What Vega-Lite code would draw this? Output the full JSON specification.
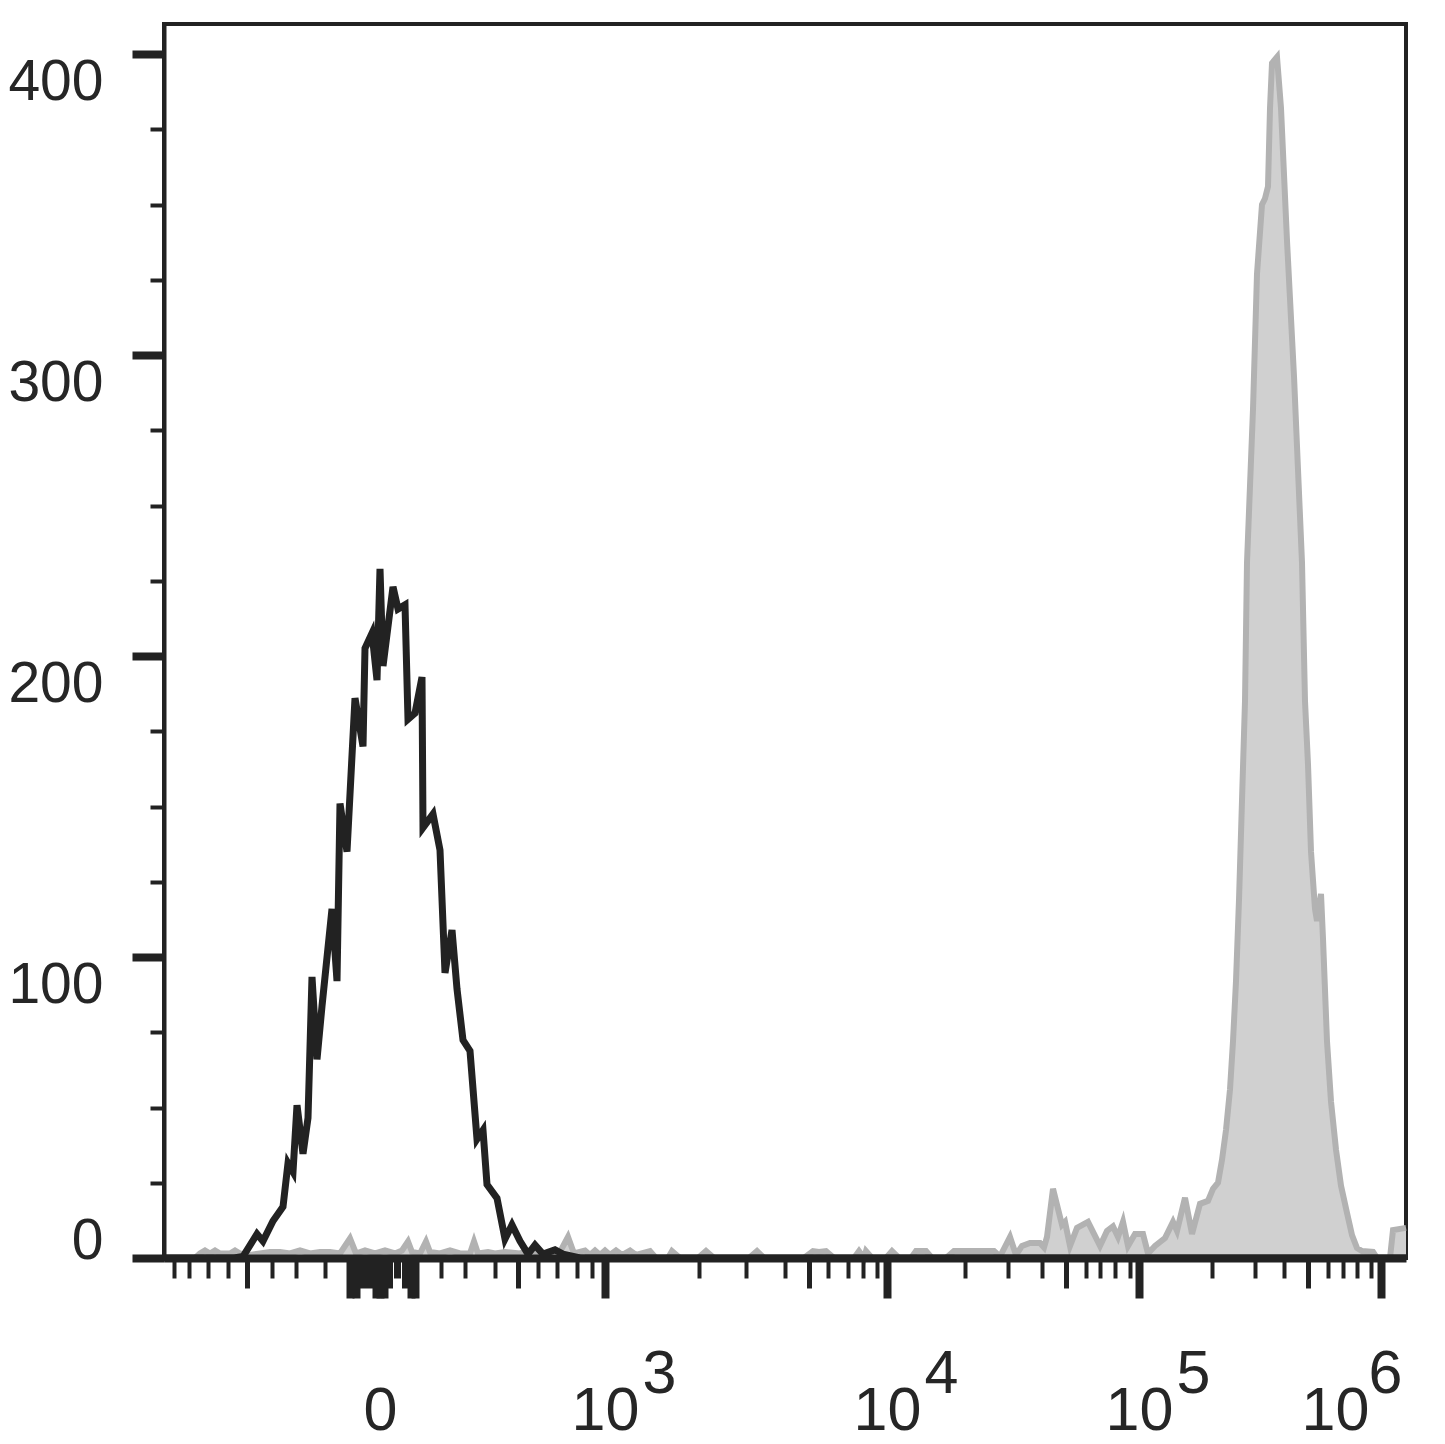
{
  "$schema": "https://vega.github.io/schema/vega-lite/v6.json",
  "width": 1242,
  "height": 1234,
  "autosize": {"type": "none"},
  "padding": {"left": 164, "top": 24, "right": 39, "bottom": 186},
  "background": "white",
  "config": {
    "view": {"stroke": "#222222", "strokeWidth": 4},
    "axis": {"labelFont": "Liberation Sans", "labelColor": "#262626", "grid": false, "title": null, "labelOverlap": false, "labelBound": false, "labelFlush": false}
  },
  "datasets": {
    "gray": [
      {"channel": 0, "count": 0}, {"channel": 31, "count": 0}, {"channel": 36, "count": 1.5}, {"channel": 41, "count": 2.5}, {"channel": 46, "count": 1.5}, {"channel": 51, "count": 2.5}, {"channel": 56, "count": 1.5}, {"channel": 66, "count": 1.5}, {"channel": 71, "count": 2.5}, {"channel": 76, "count": 1.5}, {"channel": 86, "count": 1}, {"channel": 96, "count": 1.5}, {"channel": 106, "count": 2}, {"channel": 116, "count": 2}, {"channel": 126, "count": 1.5}, {"channel": 136, "count": 2.5}, {"channel": 146, "count": 1.5}, {"channel": 156, "count": 2}, {"channel": 166, "count": 2}, {"channel": 176, "count": 1.5}, {"channel": 186, "count": 6.5}, {"channel": 192, "count": 1.5}, {"channel": 201, "count": 2.5}, {"channel": 211, "count": 1.5}, {"channel": 221, "count": 2.5}, {"channel": 231, "count": 1.5}, {"channel": 238, "count": 2.5}, {"channel": 244, "count": 5.5}, {"channel": 248, "count": 2}, {"channel": 256, "count": 1.5}, {"channel": 262, "count": 5.5}, {"channel": 266, "count": 2}, {"channel": 276, "count": 1.5}, {"channel": 286, "count": 2.5}, {"channel": 296, "count": 1.5}, {"channel": 306, "count": 1.5}, {"channel": 310, "count": 5.5}, {"channel": 314, "count": 1.5}, {"channel": 324, "count": 2}, {"channel": 331, "count": 1.5}, {"channel": 341, "count": 2}, {"channel": 356, "count": 1.5}, {"channel": 366, "count": 2.5}, {"channel": 376, "count": 1.5}, {"channel": 386, "count": 1.5}, {"channel": 396, "count": 2}, {"channel": 404, "count": 7}, {"channel": 410, "count": 1.5}, {"channel": 421, "count": 2.5}, {"channel": 426, "count": 1}, {"channel": 431, "count": 2.5}, {"channel": 436, "count": 1}, {"channel": 441, "count": 2.5}, {"channel": 446, "count": 1}, {"channel": 452, "count": 2.5}, {"channel": 458, "count": 1}, {"channel": 466, "count": 2.5}, {"channel": 472, "count": 1}, {"channel": 486, "count": 2.3}, {"channel": 492, "count": 0}, {"channel": 504, "count": 0}, {"channel": 508, "count": 2.3}, {"channel": 516, "count": 0}, {"channel": 534, "count": 0}, {"channel": 542, "count": 2.3}, {"channel": 550, "count": 0}, {"channel": 585, "count": 0}, {"channel": 593, "count": 2.3}, {"channel": 600, "count": 0}, {"channel": 640, "count": 0}, {"channel": 649, "count": 2.3}, {"channel": 655, "count": 2}, {"channel": 662, "count": 2.3}, {"channel": 670, "count": 0}, {"channel": 690, "count": 0}, {"channel": 695, "count": 2.3}, {"channel": 700, "count": 0}, {"channel": 702, "count": 2.3}, {"channel": 708, "count": 0}, {"channel": 722, "count": 0}, {"channel": 728, "count": 2.3}, {"channel": 735, "count": 0}, {"channel": 747, "count": 0}, {"channel": 752, "count": 2.3}, {"channel": 762, "count": 2.3}, {"channel": 768, "count": 0}, {"channel": 782, "count": 0}, {"channel": 790, "count": 2.3}, {"channel": 800, "count": 2.3}, {"channel": 810, "count": 2.3}, {"channel": 820, "count": 2.3}, {"channel": 830, "count": 2.3}, {"channel": 836, "count": 0.5}, {"channel": 846, "count": 7}, {"channel": 852, "count": 1}, {"channel": 858, "count": 4}, {"channel": 866, "count": 5}, {"channel": 876, "count": 5}, {"channel": 880, "count": 3.5}, {"channel": 883, "count": 7}, {"channel": 889, "count": 23}, {"channel": 898, "count": 11}, {"channel": 901, "count": 12}, {"channel": 906, "count": 4}, {"channel": 913, "count": 10}, {"channel": 924, "count": 12}, {"channel": 936, "count": 4}, {"channel": 943, "count": 9}, {"channel": 949, "count": 10.5}, {"channel": 954, "count": 7}, {"channel": 959, "count": 12}, {"channel": 964, "count": 4}, {"channel": 971, "count": 8}, {"channel": 979, "count": 8}, {"channel": 984, "count": 1.5}, {"channel": 991, "count": 4}, {"channel": 1001, "count": 6.6}, {"channel": 1009, "count": 12}, {"channel": 1013, "count": 9}, {"channel": 1021, "count": 20}, {"channel": 1028, "count": 8}, {"channel": 1036, "count": 18}, {"channel": 1044, "count": 19}, {"channel": 1049, "count": 23}, {"channel": 1054, "count": 25}, {"channel": 1058, "count": 32.6}, {"channel": 1062, "count": 42.5}, {"channel": 1066, "count": 56}, {"channel": 1069, "count": 72}, {"channel": 1072, "count": 92}, {"channel": 1075, "count": 119}, {"channel": 1078, "count": 152}, {"channel": 1081, "count": 185}, {"channel": 1083, "count": 231}, {"channel": 1089, "count": 282}, {"channel": 1093, "count": 327}, {"channel": 1098, "count": 350}, {"channel": 1101, "count": 352}, {"channel": 1104, "count": 356}, {"channel": 1106, "count": 382}, {"channel": 1108, "count": 397}, {"channel": 1113, "count": 399}, {"channel": 1117, "count": 382}, {"channel": 1123, "count": 338}, {"channel": 1130, "count": 293}, {"channel": 1138, "count": 231}, {"channel": 1141, "count": 185}, {"channel": 1144, "count": 164}, {"channel": 1147, "count": 135}, {"channel": 1151, "count": 116}, {"channel": 1153, "count": 112}, {"channel": 1157, "count": 121}, {"channel": 1159, "count": 106}, {"channel": 1163, "count": 72}, {"channel": 1167, "count": 52}, {"channel": 1172, "count": 36}, {"channel": 1177, "count": 24}, {"channel": 1183, "count": 15}, {"channel": 1188, "count": 7.6}, {"channel": 1193, "count": 3.3}, {"channel": 1198, "count": 2.3}, {"channel": 1209, "count": 2}, {"channel": 1213, "count": 0}, {"channel": 1226, "count": 0}, {"channel": 1229, "count": 9.3}, {"channel": 1242, "count": 10}
    ],
    "black": [
      {"channel": 0, "count": 0}, {"channel": 70, "count": 0}, {"channel": 79, "count": 0.5}, {"channel": 93, "count": 8}, {"channel": 99, "count": 5.6}, {"channel": 109, "count": 12.3}, {"channel": 119, "count": 17}, {"channel": 124, "count": 31.5}, {"channel": 129, "count": 28.6}, {"channel": 133, "count": 50.8}, {"channel": 139, "count": 34.6}, {"channel": 144, "count": 46.5}, {"channel": 148, "count": 93.4}, {"channel": 153, "count": 66}, {"channel": 158, "count": 83.7}, {"channel": 168, "count": 116}, {"channel": 173, "count": 92}, {"channel": 176, "count": 151}, {"channel": 183, "count": 135}, {"channel": 191, "count": 186}, {"channel": 199, "count": 170}, {"channel": 201, "count": 202.6}, {"channel": 208, "count": 207.6}, {"channel": 213, "count": 192}, {"channel": 216, "count": 229}, {"channel": 219, "count": 196.7}, {"channel": 229, "count": 223}, {"channel": 234, "count": 215.6}, {"channel": 241, "count": 217}, {"channel": 244, "count": 179}, {"channel": 251, "count": 181}, {"channel": 258, "count": 193}, {"channel": 259, "count": 143}, {"channel": 269, "count": 147.5}, {"channel": 276, "count": 135.5}, {"channel": 281, "count": 94.7}, {"channel": 288, "count": 109}, {"channel": 293, "count": 89.4}, {"channel": 299, "count": 72.4}, {"channel": 306, "count": 68.8}, {"channel": 313, "count": 39.5}, {"channel": 319, "count": 42.5}, {"channel": 323, "count": 24.4}, {"channel": 333, "count": 19.9}, {"channel": 341, "count": 6.3}, {"channel": 348, "count": 11}, {"channel": 356, "count": 5.6}, {"channel": 364, "count": 1.3}, {"channel": 371, "count": 4.3}, {"channel": 379, "count": 1.3}, {"channel": 391, "count": 2.7}, {"channel": 399, "count": 1.3}, {"channel": 416, "count": 0}, {"channel": 1242, "count": 0}
    ]
  },
  "layer": [
    {
      "data": {"name": "gray"},
      "mark": {"type": "area", "color": "#d0d0d0"},
      "encoding": {
        "x": {
          "field": "channel", "type": "quantitative",
          "scale": {"domain": [0, 1242], "nice": false, "zero": false},
          "axis": {
            "orient": "bottom", "zindex": 1,
            "values": [10, 25, 44, 64, 83, 108, 132, 161, 186, 192, 198, 205, 212, 216, 220, 225, 233, 241, 247, 251, 277, 301, 331, 354, 374, 393, 413, 428, 441, 535, 582, 621, 645, 664, 684, 699, 713, 723, 801, 844, 878, 902, 922, 936, 951, 966, 975, 1048, 1091, 1120, 1144, 1164, 1179, 1193, 1207, 1217],
            "domainColor": "#222222", "domainWidth": 8,
            "tickColor": "#222222",
            "tickSize": {"condition": [
              {"test": "indexof([186,192,212,216,220,247,251,441,723,975,1217], datum.value) >= 0", "value": 40},
              {"test": "indexof([83,198,205,225,241,354,645,902,1144], datum.value) >= 0", "value": 30}
            ], "value": 20},
            "tickWidth": {"condition": [
              {"test": "indexof([186,192,212,216,220,247,251,441,723,975,1217], datum.value) >= 0", "value": 8},
              {"test": "indexof([198,205,225,241,233], datum.value) >= 0", "value": 7},
              {"test": "indexof([83,354,645,902,1144], datum.value) >= 0", "value": 5}
            ], "value": 4},
            "labelExpr": "datum.value == 216 ? '0' : (indexof([441,723,975,1217], datum.value) >= 0 ? '10' : '')",
            "labelFontSize": 61,
            "labelBaseline": "alphabetic",
            "labelPadding": 131,
            "labelOffset": {"condition": {"test": "datum.value == 1217", "value": -46}, "value": 0}
          }
        },
        "y": {
          "field": "count", "type": "quantitative",
          "scale": {"domain": [0, 410], "nice": false},
          "axis": {
            "orient": "left", "zindex": 1,
            "values": [0, 25, 50, 75, 100, 125, 150, 175, 200, 225, 250, 275, 300, 325, 350, 375, 400],
            "domainColor": "#222222", "domainWidth": 4,
            "tickColor": "#222222",
            "tickSize": {"condition": {"test": "datum.value % 100 == 0", "value": 32}, "value": 14},
            "tickWidth": {"condition": {"test": "datum.value % 100 == 0", "value": 8}, "value": 4},
            "labelExpr": "datum.value % 100 == 0 ? datum.label : ''",
            "labelFontSize": 57,
            "labelPadding": 29,
            "labelBaseline": {"condition": {"test": "datum.value == 0", "value": "alphabetic"}, "value": "top"}
          }
        }
      }
    },
    {
      "data": {"name": "gray"},
      "mark": {"type": "line", "color": "#b2b2b2", "strokeWidth": 6},
      "encoding": {
        "x": {"field": "channel", "type": "quantitative", "axis": null},
        "y": {"field": "count", "type": "quantitative", "axis": null}
      }
    },
    {
      "data": {"name": "black"},
      "mark": {"type": "line", "color": "#222222", "strokeWidth": 7},
      "encoding": {
        "x": {
          "field": "channel", "type": "quantitative",
          "axis": {
            "orient": "bottom",
            "values": [441, 723, 975, 1217],
            "domain": false, "ticks": false, "tickSize": 0,
            "labelExpr": "datum.value == 441 ? '3' : datum.value == 723 ? '4' : datum.value == 975 ? '5' : '6'",
            "labelFontSize": 61,
            "labelBaseline": "alphabetic",
            "labelPadding": 134,
            "labelOffset": {"condition": {"test": "datum.value == 1217", "value": 4}, "value": 54}
          }
        },
        "y": {"field": "count", "type": "quantitative", "axis": null}
      }
    }
  ],
  "resolve": {"axis": {"x": "independent", "y": "independent"}}
}
